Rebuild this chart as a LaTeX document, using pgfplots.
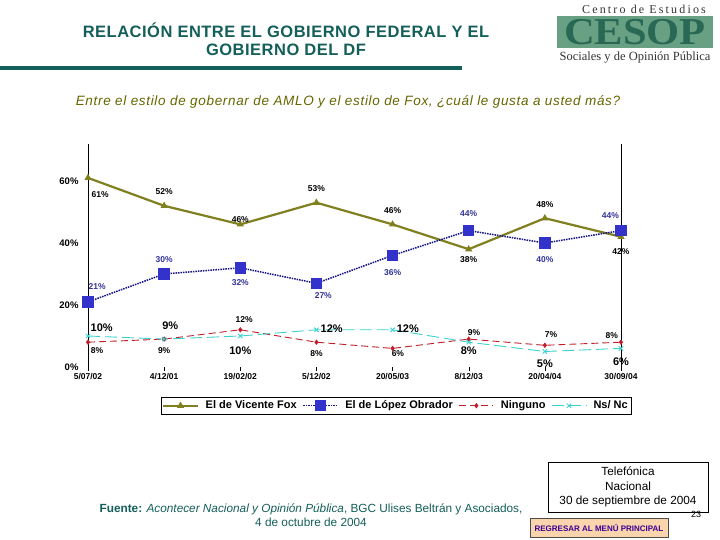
\documentclass[border=0pt]{standalone}
\usepackage{fontspec}
\setmainfont{Liberation Sans}
\newfontfamily\seriffont{Liberation Serif}
\newfontfamily\serifspaced[LetterSpace=18]{Liberation Serif}
\newfontfamily\spacedsans[LetterSpace=5]{Liberation Sans}
\newfontfamily\titlesans[LetterSpace=3]{Liberation Sans}
\usepackage{pgfplots}
\pgfplotsset{compat=1.18}
\definecolor{foxc}{RGB}{128,128,32}
\definecolor{amloline}{RGB}{20,20,130}
\definecolor{amlomark}{RGB}{51,51,204}
\definecolor{amlotext}{RGB}{51,51,153}
\definecolor{ningc}{RGB}{192,30,40}
\definecolor{nsc}{RGB}{60,210,210}
\definecolor{tealc}{RGB}{20,95,90}
\definecolor{subc}{RGB}{102,102,0}
\definecolor{cesopbg}{RGB}{104,160,132}
\definecolor{cesopfg}{RGB}{40,104,84}
\definecolor{peach}{RGB}{250,212,172}
\definecolor{btnc}{RGB}{60,0,150}
\newcommand{\lab}[4]{\node[font=\bfseries\fontsize{8.5}{9}\selectfont,text=#4,inner sep=0pt] at (axis cs:#1,#2) {#3\%};}
\newcommand{\labL}[3]{\node[font=\bfseries\fontsize{11}{12}\selectfont,text=black,inner sep=0pt] at (axis cs:#1,#2) {#3\%};}
\begin{document}
\begin{tikzpicture}
\path[fill=white,use as bounding box] (0,0) rectangle (720pt,540pt);
% title
\node[font=\titlesans\bfseries\fontsize{16.5}{18}\selectfont,text=tealc,align=center] at (286pt,501pt) {RELACIÓN ENTRE EL GOBIERNO FEDERAL Y EL\\GOBIERNO DEL DF};
\fill[tealc] (0,470pt) rectangle (462pt,474pt);
% logo
\node[font=\serifspaced\fontsize{12}{12}\selectfont,text=black!80,inner sep=0pt] at (644pt,531pt) {Centro de Estudios};
\fill[cesopbg] (557pt,492pt) rectangle (713pt,524pt);
\begin{scope}
\clip (557pt,492pt) rectangle (713pt,524pt);
\node[font=\seriffont\bfseries\fontsize{38}{38}\selectfont,text=cesopfg,inner sep=0pt] at (635pt,508pt) {\scalebox{1.12}[1]{CESOP}};
\end{scope}
\node[font=\seriffont\fontsize{12.5}{12.5}\selectfont,text=black!80,inner sep=0pt] at (635pt,482pt) {Sociales y de Opinión Pública};
% subtitle
\node[font=\spacedsans\itshape\fontsize{13.5}{15}\selectfont,text=subc] at (348pt,438pt) {Entre el estilo de gobernar de AMLO y el estilo de Fox, ¿cuál le gusta a usted más?};
\begin{axis}[
  at={(88pt,173pt)}, anchor=south west, scale only axis,
  width=533pt, height=223.2pt,
  xmin=0, xmax=7, ymin=0, ymax=72,
  clip=false,
  axis x line*=bottom, axis y line*=box,
  separate axis lines,
  x axis line style={draw=none},
  y axis line style={black, line width=0.8pt},
  xtick={0,1,2,3,4,5,6,7},
  xticklabels={5/07/02,4/12/01,19/02/02,5/12/02,20/05/03,8/12/03,20/04/04,30/09/04},
  ytick={0,20,40,60},
  yticklabels={0\%,20\%,40\%,60\%},
  ytick pos=left,
  ytick style={draw=none},
  xtick style={black, thin},
  tick align=outside,
  major tick length=4pt,
  x tick label style={font=\bfseries\fontsize{8.5}{9}\selectfont, yshift=1pt},
  y tick label style={font=\bfseries\fontsize{9.5}{10}\selectfont, xshift=-2pt},
  /pgf/number format/assume math mode=true,
  legend columns=4,
  legend style={at={(0.578,-0.135)}, anchor=north, draw=black, line width=0.6pt,
    font=\bfseries\fontsize{11}{12}\selectfont, inner sep=1.5pt,
    /tikz/every even column/.append style={column sep=4pt},
    /tikz/every odd column/.append style={column sep=5pt}},
  legend image code/.code={\draw[mark repeat=2,mark phase=2] plot coordinates {(0cm,0cm) (0.6cm,0cm) (1.2cm,0cm)};},
]
\addplot[foxc, line width=2.2pt, mark=triangle*, mark size=2pt, mark options={solid}]
  coordinates {(0,61) (1,52) (2,46) (3,53) (4,46) (5,38) (6,48) (7,42)};
\addlegendentry{El de Vicente Fox}
\addplot[amloline, line width=1.5pt, dash pattern=on 1.5pt off 1pt, mark=square*, mark size=5pt, mark options={solid, fill=amlomark, draw=amlomark}]
  coordinates {(0,21) (1,30) (2,32) (3,27) (4,36) (5,44) (6,40) (7,44)};
\addlegendentry{El de López Obrador}
\addplot[ningc, line width=0.9pt, dash pattern=on 7pt off 4pt, mark=diamond*, mark size=2pt, mark options={solid}]
  coordinates {(0,8) (1,9) (2,12) (3,8) (4,6) (5,9) (6,7) (7,8)};
\addlegendentry{Ninguno}
\addplot[nsc, line width=0.9pt, dash pattern=on 12pt off 5pt, mark=x, mark size=3pt, mark options={solid}]
  coordinates {(0,10) (1,9) (2,10) (3,12) (4,12) (5,8) (6,5) (7,6)};
\addlegendentry{Ns/ Nc}
% Fox labels
\lab{0.16}{55.5}{61}{black}
\lab{1}{56.5}{52}{black}
\lab{2}{47.7}{46}{black}
\lab{3}{57.7}{53}{black}
\lab{4}{50.6}{46}{black}
\lab{5}{34.8}{38}{black}
\lab{6}{52.3}{48}{black}
\lab{7}{37.1}{42}{black}
% AMLO labels
\lab{0.12}{25.8}{21}{amlotext}
\lab{1}{34.8}{30}{amlotext}
\lab{2}{27.1}{32}{amlotext}
\lab{3.09}{22.9}{27}{amlotext}
\lab{4}{30.3}{36}{amlotext}
\lab{5}{49.4}{44}{amlotext}
\lab{6}{34.8}{40}{amlotext}
\lab{6.86}{49.0}{44}{amlotext}
% Ninguno labels
\lab{0.12}{5.2}{8}{black}
\lab{1}{5.2}{9}{black}
\lab{2.05}{15.2}{12}{black}
\lab{3}{4.2}{8}{black}
\lab{4.07}{4.2}{6}{black}
\lab{5.07}{11.0}{9}{black}
\lab{6.08}{10.6}{7}{black}
\lab{6.88}{10.0}{8}{black}
% Ns/Nc labels
\labL{0.18}{12.6}{10}
\labL{1.08}{13.2}{9}
\labL{2}{5.2}{10}
\labL{3.2}{12.3}{12}
\labL{4.2}{12.3}{12}
\labL{5}{5.2}{8}
\labL{6}{1.0}{5}
\labL{7}{1.6}{6}
\end{axis}
% footer
\node[align=center,font=\fontsize{11.8}{14}\selectfont,text=tealc] at (311pt,25pt) {\textbf{Fuente:} \textit{Acontecer Nacional y Opinión Pública}, BGC Ulises Beltrán y Asociados,\\4 de octubre de 2004};
\draw[black, line width=0.6pt] (548pt,28pt) rectangle (708pt,78pt);
\node[align=center,font=\fontsize{11.8}{14.5}\selectfont] at (628pt,53pt) {Telefónica\\Nacional\\30 de septiembre de 2004};
\node[font=\fontsize{9}{9}\selectfont] at (696pt,26pt) {23};
\filldraw[fill=peach, draw=black!70, line width=0.6pt] (530pt,3pt) rectangle (668pt,22pt);
\node[font=\bfseries\fontsize{8}{8}\selectfont,text=btnc] at (599pt,12.5pt) {REGRESAR AL MENÚ PRINCIPAL};
\end{tikzpicture}
\end{document}
